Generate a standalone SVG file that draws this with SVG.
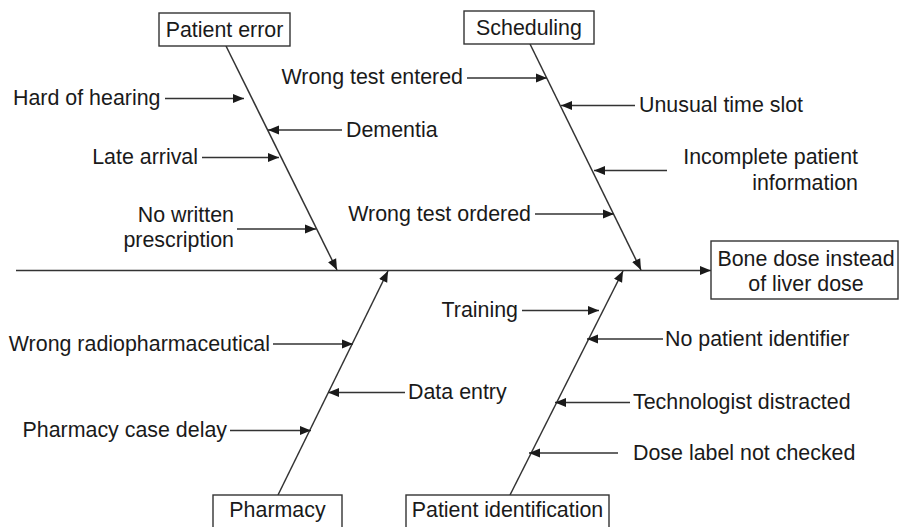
<svg xmlns="http://www.w3.org/2000/svg" width="899" height="527" viewBox="0 0 899 527">
<style>
text{font-family:"Liberation Sans",Arial,sans-serif;font-size:21.4px;fill:#1a1a1a}
.box{fill:#fff;stroke:#333;stroke-width:1.4}
.ln{stroke:#333;stroke-width:1.5;fill:none}
.ar{stroke:#333;stroke-width:1.5;fill:none;marker-end:url(#ah)}
.m{text-anchor:middle}
.e{text-anchor:end}
</style>
<defs>
<marker id="ah" markerUnits="userSpaceOnUse" markerWidth="12" markerHeight="10" refX="11" refY="5" orient="auto">
<path d="M0,0.5 L11,5 L0,9.5 z" fill="#1a1a1a"/>
</marker>
</defs>
<rect width="899" height="527" fill="#fff"/>
<g id="connectors">
<line class="ar" x1="16" y1="270.5" x2="711" y2="270.5"/>
<line class="ar" x1="226" y1="46" x2="337" y2="270"/>
<line class="ar" x1="530" y1="44" x2="641" y2="270"/>
<line class="ar" x1="278" y1="495" x2="388" y2="271"/>
<line class="ar" x1="510" y1="495" x2="623" y2="271"/>
<line class="ar" x1="165" y1="98.5" x2="244" y2="98.5"/>
<line class="ar" x1="342" y1="130" x2="268" y2="130"/>
<line class="ar" x1="202" y1="157.5" x2="279" y2="157.5"/>
<line class="ar" x1="237" y1="229" x2="316" y2="229"/>
<line class="ar" x1="467" y1="78" x2="547" y2="78"/>
<line class="ar" x1="635" y1="105.5" x2="561" y2="105.5"/>
<line class="ar" x1="667" y1="170.5" x2="594" y2="170.5"/>
<line class="ar" x1="535" y1="214" x2="614" y2="214"/>
<line class="ar" x1="273" y1="344" x2="353" y2="344"/>
<line class="ar" x1="405" y1="392.5" x2="328" y2="392.5"/>
<line class="ar" x1="230" y1="430.5" x2="311" y2="430.5"/>
<line class="ar" x1="522" y1="310.5" x2="599" y2="310.5"/>
<line class="ar" x1="663" y1="339" x2="587" y2="339"/>
<line class="ar" x1="630" y1="402.5" x2="555" y2="402.5"/>
<line class="ar" x1="618" y1="453" x2="529" y2="453"/>
</g>
<g id="effect">
<rect class="box" x="711" y="241" width="187" height="58"/>
<text class="m" x="806" y="266">Bone dose instead</text>
<text class="m" x="806" y="291">of liver dose</text>
</g>
<g id="patient-error">
<rect class="box" x="159" y="13" width="131" height="33"/>
<text class="m" x="224.5" y="37">Patient error</text>
</g>
<g id="scheduling">
<rect class="box" x="464" y="11" width="130" height="33"/>
<text class="m" x="529" y="35">Scheduling</text>
</g>
<g id="pharmacy">
<rect class="box" x="213" y="495" width="129" height="45"/>
<text class="m" x="277.5" y="517">Pharmacy</text>
</g>
<g id="patient-identification">
<rect class="box" x="406" y="495" width="203" height="45"/>
<text class="m" x="507.5" y="517">Patient identification</text>
</g>
<g id="causes">
<text x="13" y="105">Hard of hearing</text>
<text x="346" y="137">Dementia</text>
<text class="e" x="198" y="164">Late arrival</text>
<text class="e" x="234" y="222">No written</text>
<text class="e" x="234" y="247">prescription</text>
<text class="e" x="463" y="84">Wrong test entered</text>
<text x="639" y="112">Unusual time slot</text>
<text class="e" x="858" y="164">Incomplete patient</text>
<text class="e" x="858" y="190">information</text>
<text class="e" x="531" y="221">Wrong test ordered</text>
<text class="e" x="270" y="351">Wrong radiopharmaceutical</text>
<text x="408" y="399">Data entry</text>
<text class="e" x="227" y="437">Pharmacy case delay</text>
<text class="e" x="518" y="317">Training</text>
<text x="665" y="346">No patient identifier</text>
<text x="633" y="409">Technologist distracted</text>
<text x="633" y="460">Dose label not checked</text>
</g>
</svg>
